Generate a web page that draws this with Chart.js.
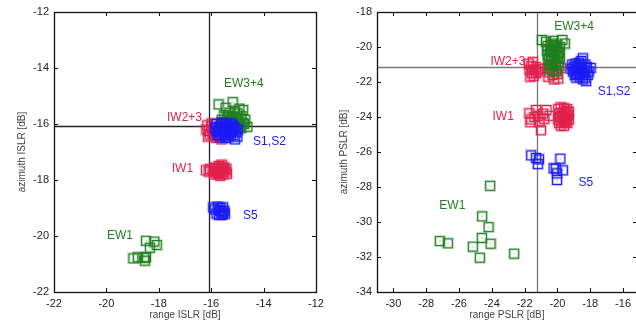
<!DOCTYPE html>
<html>
<head>
<meta charset="utf-8">
<script src="https://cdn.jsdelivr.net/npm/chart.js@4.4.1/dist/chart.umd.min.js"></script>
<style>
html, body { margin: 0; padding: 0; background: #fff; overflow: hidden; width: 636px; height: 322px; }
#wrapL { position: absolute; left: 0; top: 0; width: 330px; height: 322px; }
#wrapR { position: absolute; left: 316px; top: 0; width: 340px; height: 322px; }
</style>
</head>
<body>
<div id="wrapL"><canvas id="islrChart" width="330" height="322"></canvas></div>
<div id="wrapR"><canvas id="pslrChart" width="340" height="322"></canvas></div>
<script>
// ---- ISLR (left) ----
const islrTicks = [-22, -20, -18, -16, -14, -12];
const islrRef = { x: -16.1, y: -16.07 };

const islrEW1 = [[-18.49,-20.17],[-18.17,-20.2],[-18.08,-20.32],[-18.34,-20.42],[-18.97,-20.8],[-18.8,-20.76],[-18.49,-20.76],[-18.53,-20.88],[-18.56,-20.78]];
const islrEW34 = [[-15.72,-15.3],[-15.18,-15.22],[-15.45,-15.42],[-14.78,-15.5],[-14.92,-15.45],[-14.62,-16.1],[-15.1,-15.55],[-15.3,-15.6],[-15.5,-15.68],[-15.0,-15.62],[-14.85,-15.72],[-15.2,-15.75],[-15.4,-15.8],[-15.05,-15.8],[-14.95,-15.9],[-15.3,-15.9],[-15.15,-15.95],[-14.8,-15.95],[-15.45,-15.98],[-15.0,-16.02],[-14.9,-16.08],[-15.25,-16.05],[-15.6,-15.85],[-14.7,-15.85],[-15.1,-16.1],[-14.85,-16.15],[-15.35,-15.7],[-15.55,-15.95],[-14.75,-16.0],[-15.2,-15.85]];
const islrIW23 = [[-16.15,-16.05],[-16.1,-16.25],[-16.12,-16.45],[-16.0,-16.1],[-15.95,-16.35],[-15.9,-16.2],[-15.85,-16.0],[-15.8,-16.5],[-15.7,-16.45],[-15.6,-16.55],[-15.75,-16.3],[-15.6,-16.1],[-15.5,-16.3],[-15.45,-16.4],[-15.85,-16.4],[-16.05,-16.38],[-15.98,-15.98],[-15.65,-16.2],[-16.18,-16.2],[-15.55,-15.95]];
const islrS12 = [[-15.8,-16.0],[-15.7,-16.1],[-15.6,-16.0],[-15.5,-16.05],[-15.4,-16.0],[-15.3,-16.1],[-15.2,-16.05],[-15.1,-16.15],[-15.8,-16.25],[-15.7,-16.3],[-15.6,-16.2],[-15.5,-16.25],[-15.4,-16.2],[-15.3,-16.3],[-15.2,-16.25],[-15.05,-16.3],[-15.75,-16.4],[-15.65,-16.45],[-15.55,-16.35],[-15.45,-16.4],[-15.35,-16.45],[-15.25,-16.38],[-15.15,-16.4],[-15.0,-16.45],[-15.1,-16.55],[-14.98,-16.2],[-15.85,-16.15],[-15.6,-15.95],[-15.35,-16.15],[-15.5,-16.15],[-15.25,-15.98],[-15.45,-16.5],[-15.7,-16.2],[-15.3,-16.2],[-15.15,-16.1]];
const islrIW1 = [[-16.2,-17.65],[-16.1,-17.7],[-16.05,-17.6],[-15.95,-17.68],[-15.9,-17.8],[-15.85,-17.55],[-15.8,-17.7],[-15.75,-17.62],[-15.7,-17.5],[-15.65,-17.72],[-15.6,-17.6],[-15.55,-17.8],[-15.5,-17.65],[-15.45,-17.7],[-15.4,-17.78],[-15.6,-17.45],[-15.75,-17.8],[-15.5,-17.55],[-15.65,-17.85],[-15.42,-17.6],[-15.85,-17.72],[-15.7,-17.75],[-15.55,-17.7],[-15.62,-17.55],[-15.8,-17.6]];
const islrS5 = [[-15.92,-18.98],[-15.85,-19.05],[-15.75,-18.95],[-15.7,-19.1],[-15.65,-19.0],[-15.6,-19.15],[-15.55,-18.98],[-15.5,-19.1],[-15.48,-19.2],[-15.7,-19.25],[-15.8,-19.2],[-15.6,-19.25],[-15.65,-19.08],[-15.55,-19.2]];

const islrLabels = [
  { text: "EW3+4", x: -15.51, y: -14.57, color: "green", align: "left" },
  { text: "IW2+3", x: -16.35, y: -15.79, color: "red", align: "right" },
  { text: "S1,S2", x: -14.4, y: -16.64, color: "blue", align: "left" },
  { text: "IW1", x: -16.69, y: -17.61, color: "red", align: "right" },
  { text: "S5", x: -14.79, y: -19.29, color: "blue", align: "left" },
  { text: "EW1", x: -19.98, y: -20.0, color: "green", align: "left" }
];

// ---- PSLR (right) ----
const pslrXTicks = [-30, -28, -26, -24, -22, -20, -18, -16];
const pslrYTicks = [-34, -32, -30, -28, -26, -24, -22, -20, -18];
const pslrRef = { x: -21.24, y: -21.16 };

const pslrEW1 = [[-24.1,-27.93],[-24.59,-29.68],[-24.2,-30.29],[-24.61,-30.91],[-24.08,-31.24],[-27.17,-31.09],[-26.68,-31.22],[-25.16,-31.41],[-24.73,-32.04],[-22.64,-31.81]];
const pslrEW34 = [[-20.95,-19.6],[-20.7,-19.7],[-20.25,-19.65],[-19.7,-19.6],[-19.55,-19.8],[-20.6,-19.95],[-20.4,-19.9],[-20.2,-19.95],[-20.0,-19.9],[-19.85,-20.0],[-20.65,-20.2],[-20.45,-20.15],[-20.25,-20.25],[-20.05,-20.2],[-19.9,-20.3],[-20.6,-20.45],[-20.4,-20.5],[-20.2,-20.45],[-20.0,-20.55],[-19.85,-20.6],[-20.55,-20.75],[-20.35,-20.8],[-20.15,-20.7],[-19.95,-20.85],[-20.5,-21.0],[-20.3,-21.05],[-20.1,-21.0],[-19.9,-21.1],[-20.45,-21.3],[-20.25,-21.35],[-20.05,-21.4],[-20.35,-20.3],[-20.15,-20.05],[-20.5,-20.6],[-20.3,-19.8],[-19.95,-20.4]];
const pslrIW23 = [[-21.75,-20.95],[-21.6,-21.1],[-21.5,-20.85],[-21.7,-21.3],[-21.55,-21.5],[-21.65,-21.7],[-21.4,-21.3],[-21.3,-21.5],[-21.45,-21.65],[-21.2,-21.4],[-21.1,-21.25],[-20.6,-21.2],[-20.5,-21.45],[-20.3,-21.6],[-20.1,-21.3],[-20.0,-21.55],[-19.95,-21.8],[-20.2,-21.85],[-20.4,-21.1],[-19.8,-21.2],[-20.55,-21.7],[-21.3,-21.15]];
const pslrS12 = [[-19.1,-21.0],[-19.0,-21.15],[-18.9,-20.95],[-18.8,-21.1],[-18.7,-20.9],[-18.55,-20.8],[-18.45,-20.65],[-18.3,-21.0],[-18.2,-21.15],[-17.98,-21.2],[-19.05,-21.4],[-18.9,-21.35],[-18.75,-21.3],[-18.6,-21.2],[-18.5,-21.35],[-18.35,-21.3],[-18.1,-21.4],[-18.95,-21.6],[-18.8,-21.55],[-18.65,-21.7],[-18.5,-21.6],[-18.3,-21.75],[-18.25,-21.95],[-18.45,-21.85],[-18.7,-21.5],[-18.85,-21.75],[-18.6,-21.0],[-18.4,-21.5],[-19.15,-21.25],[-18.15,-21.6]];
const pslrIW1 = [[-21.71,-23.79],[-21.6,-24.14],[-21.65,-24.3],[-21.3,-23.6],[-21.2,-23.93],[-20.88,-23.8],[-20.67,-23.6],[-20.49,-23.93],[-21.0,-24.76],[-21.1,-24.3],[-21.4,-24.0],[-20.8,-24.1],
  [-19.95,-23.55],[-19.8,-23.45],[-19.6,-23.5],[-19.4,-23.55],[-19.3,-23.7],[-19.9,-23.8],[-19.7,-23.75],[-19.5,-23.8],[-19.35,-23.9],[-19.85,-24.0],[-19.65,-24.05],[-19.45,-24.1],[-19.3,-24.15],[-19.75,-24.25],[-19.55,-24.3],[-19.4,-24.35],[-19.9,-24.35],[-19.6,-24.5],[-19.8,-24.5],[-19.5,-23.65],[-19.7,-23.95],[-19.45,-24.25],[-19.95,-24.15],[-19.6,-24.2]];
const pslrS5 = [[-21.6,-26.19],[-21.3,-26.34],[-21.13,-26.42],[-21.2,-26.69],[-20.24,-26.93],[-19.82,-26.38],[-19.67,-27.05],[-20.02,-27.22],[-20.02,-27.6],[-20.1,-26.95]];

const pslrLabels = [
  { text: "EW3+4", x: -20.2, y: -18.86, color: "green", align: "left" },
  { text: "IW2+3", x: -21.95, y: -20.84, color: "red", align: "right" },
  { text: "S1,S2", x: -17.54, y: -22.55, color: "blue", align: "left" },
  { text: "IW1", x: -22.66, y: -23.98, color: "red", align: "right" },
  { text: "S5", x: -18.72, y: -27.75, color: "blue", align: "left" },
  { text: "EW1", x: -27.2, y: -29.07, color: "green", align: "left" }
];

const colors = { green: "#1f7f1f", red: "#e0214c", blue: "#1b1bf5" };

Chart.defaults.font.family = "'Liberation Sans', Arial, sans-serif";

// hollow square with a small centre dot, like the gnuplot marker
function marker(color) {
  const c = document.createElement("canvas");
  c.width = 12; c.height = 12;
  const g = c.getContext("2d");
  g.strokeStyle = color;
  g.globalAlpha = 0.35;
  g.lineWidth = 2.4;
  g.strokeRect(1.5, 1.5, 9, 9);
  g.globalAlpha = 1;
  g.lineWidth = 1;
  g.strokeRect(1.5, 1.5, 9, 9);
  g.fillStyle = color;
  g.globalAlpha = 0.8;
  g.fillRect(5.5, 5.5, 1, 1);
  return c;
}

function pts(arr) { return arr.map(p => ({ x: p[0], y: p[1] })); }

function ds(arr, col) {
  return { data: pts(arr), pointStyle: marker(colors[col]), pointRadius: 6, showLine: false };
}

const framePlugin = {
  id: "frame",
  beforeDatasetsDraw(chart, args, o) {
    const { ctx, chartArea: a, scales: { x, y } } = chart;
    ctx.save();
    ctx.strokeStyle = o.refColor;
    ctx.lineWidth = 1.3;
    const px = Math.round(x.getPixelForValue(o.ref.x)) + 0.5;
    const py = Math.round(y.getPixelForValue(o.ref.y)) + 0.5;
    ctx.beginPath();
    ctx.moveTo(px, a.top); ctx.lineTo(px, a.bottom);
    ctx.moveTo(a.left, py); ctx.lineTo(a.right, py);
    ctx.stroke();
    ctx.restore();
  },
  afterDatasetsDraw(chart, args, o) {
    const { ctx, chartArea: a, scales: { x, y } } = chart;
    ctx.save();
    ctx.strokeStyle = "#111";
    ctx.lineWidth = 1.3;
    ctx.strokeRect(Math.round(a.left) + 0.5, Math.round(a.top) + 0.5, Math.round(a.right - a.left), Math.round(a.bottom - a.top));
    ctx.lineWidth = 1;
    ctx.beginPath();
    x.ticks.forEach(t => {
      const p = Math.round(x.getPixelForValue(t.value)) + 0.5;
      ctx.moveTo(p, a.bottom); ctx.lineTo(p, a.bottom - 4);
      ctx.moveTo(p, a.top); ctx.lineTo(p, a.top + 4);
    });
    y.ticks.forEach(t => {
      const p = Math.round(y.getPixelForValue(t.value)) + 0.5;
      ctx.moveTo(a.left, p); ctx.lineTo(a.left + 4, p);
      ctx.moveTo(a.right, p); ctx.lineTo(a.right - 4, p);
    });
    ctx.stroke();
    ctx.font = "12px 'Liberation Sans', Arial, sans-serif";
    ctx.textBaseline = "middle";
    o.labels.forEach(l => {
      ctx.fillStyle = colors[l.color];
      ctx.textAlign = l.align;
      ctx.fillText(l.text, x.getPixelForValue(l.x), y.getPixelForValue(l.y));
    });
    ctx.restore();
  }
};

function axis(min, max, ticks, title, fixed, titlePad) {
  return {
    type: "linear",
    min: min, max: max,
    afterBuildTicks: s => { s.ticks = ticks.map(v => ({ value: v })); },
    afterFit: s => { if (s.isHorizontal()) s.height = fixed; else s.width = fixed; },
    grid: { display: false, drawTicks: false },
    border: { display: false },
    ticks: { font: { size: 11 }, color: "#222", padding: 5 },
    title: { display: true, text: title, font: { size: 10 }, color: "#444", padding: titlePad }
  };
}

function makeChart(id, sets, xAxis, yAxis, padRight, frame) {
  new Chart(document.getElementById(id), {
    type: "scatter",
    data: { datasets: sets },
    options: {
      responsive: false,
      animation: false,
      events: [],
      layout: { padding: { left: 0, right: padRight, top: 12, bottom: 0 } },
      plugins: { legend: { display: false }, tooltip: { enabled: false }, frame: frame },
      scales: { x: xAxis, y: yAxis }
    },
    plugins: [framePlugin]
  });
}

makeChart("islrChart",
  [ds(islrS12, "blue"), ds(islrS5, "blue"), ds(islrEW34, "green"), ds(islrEW1, "green"), ds(islrIW23, "red"), ds(islrIW1, "red")],
  axis(-22, -12, islrTicks, "range ISLR [dB]", 30, { top: 0, bottom: 1 }),
  axis(-22, -12, islrTicks, "azimuth ISLR [dB]", 54, { top: 16, bottom: 0 }),
  14, { ref: islrRef, refColor: "#222", labels: islrLabels });

makeChart("pslrChart",
  [ds(pslrS12, "blue"), ds(pslrS5, "blue"), ds(pslrEW34, "green"), ds(pslrEW1, "green"), ds(pslrIW23, "red"), ds(pslrIW1, "red")],
  axis(-31, -15.15, pslrXTicks, "range PSLR [dB]", 30, { top: 0, bottom: 1 }),
  axis(-34, -18, pslrYTicks, "azimuth PSLR [dB]", 61, { top: 22, bottom: 0 }),
  19, { ref: pslrRef, refColor: "#777", labels: pslrLabels });
</script>
</body>
</html>
